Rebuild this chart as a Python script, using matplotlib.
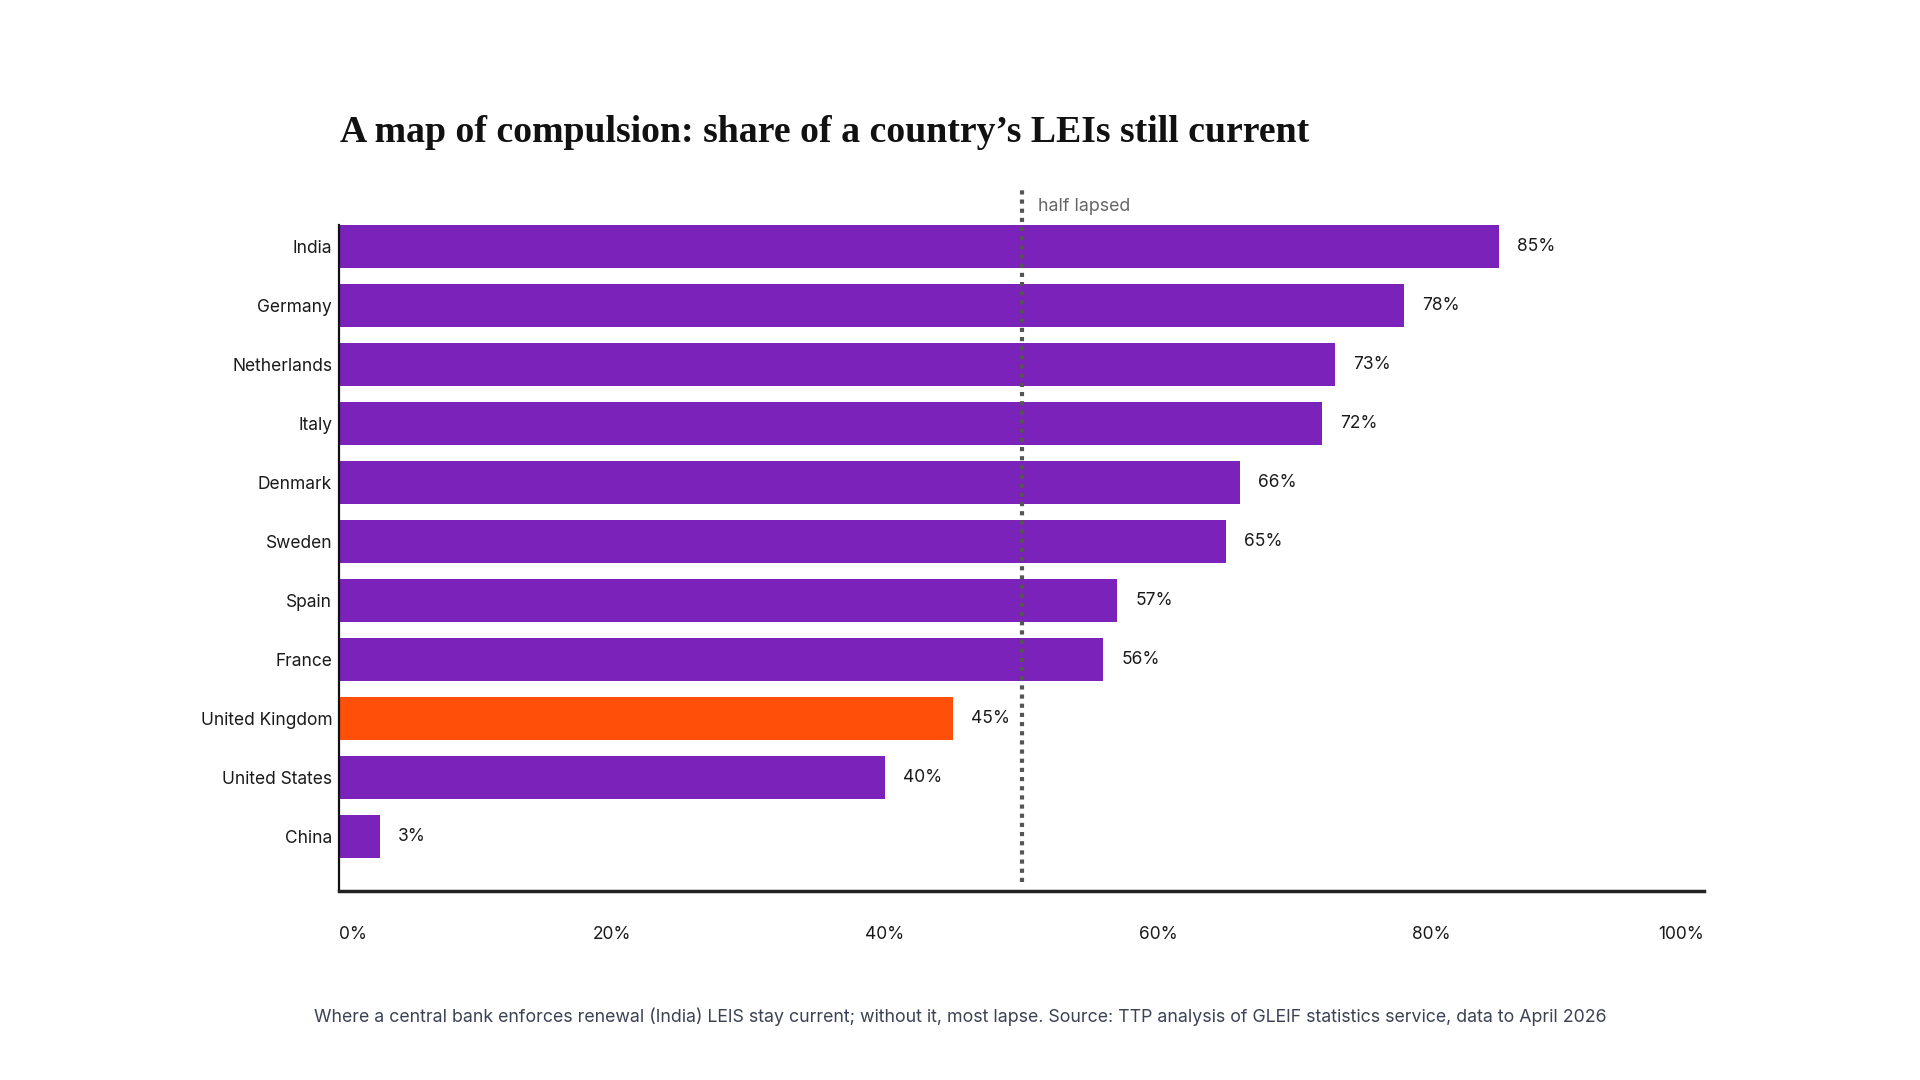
import matplotlib.pyplot as plt

countries = ['India', 'Germany', 'Netherlands', 'Italy', 'Denmark', 'Sweden',
             'Spain', 'France', 'United Kingdom', 'United States', 'China']
share_current = [85, 78, 73, 72, 66, 65, 57, 56, 45, 40, 3]
highlight = 'United Kingdom'
tick_values = [0, 20, 40, 60, 80, 100]
half_line = 50

PURPLE = '#7A22BA'
ORANGE = '#FF4F08'

plt.rcParams['font.family'] = ['Inter', 'DejaVu Sans']

fig = plt.figure(figsize=(19.2, 10.8), dpi=100)
ax = fig.add_axes([0.1766, 0.175, 0.7109, 0.6167])

ypos = list(range(len(countries)))
colors = [ORANGE if c == highlight else PURPLE for c in countries]
ax.barh(ypos, share_current, height=0.73, color=colors, zorder=2)

# подписи значений у конца столбцов
for y, v in zip(ypos, share_current):
    ax.annotate(f'{v}%', (v, y), xytext=(18, 0), textcoords='offset pixels',
                va='center', ha='left', fontsize=12.5, color='#1a1a1a')

# линия "half lapsed"
ax.axvline(half_line, ymin=0.0135, ymax=1.053, color='#555555', linestyle=(0, (1, 1.2)),
           linewidth=3, clip_on=False, zorder=3)
ax.annotate('half lapsed', (half_line, 1.053), xycoords=('data', 'axes fraction'),
            xytext=(16, -17), textcoords='offset pixels', va='center', ha='left',
            fontsize=12.8, color='#666666', annotation_clip=False)

ax.set_xlim(0, 99.6)
ax.set_ylim(len(countries) - 0.07, -0.37)
ax.set_yticks(ypos)
ax.set_yticklabels(countries, fontsize=12.5, color='#1a1a1a')
ax.set_xticks(tick_values)
ax.set_xticklabels([f'{t}%' for t in tick_values], fontsize=12.5, color='#1a1a1a')
xlabels = ax.get_xticklabels()
xlabels[0].set_ha('left')
xlabels[-1].set_ha('right')
ax.tick_params(axis='y', length=0, pad=5)
ax.tick_params(axis='x', length=0, pad=25)

for s in ['top', 'right']:
    ax.spines[s].set_visible(False)
ax.spines['left'].set_linewidth(1.6)
ax.spines['left'].set_color('#111111')
ax.spines['bottom'].set_linewidth(2.5)
ax.spines['bottom'].set_color('#222222')

fig.text(0.177, 1 - 133 / 1080, 'A map of compulsion: share of a country\u2019s LEIs still current',
         family=['Liberation Serif', 'DejaVu Serif'], fontweight='bold', fontsize=27.2,
         va='center', ha='left', color='#111111')

fig.text(0.5, 1 - 1017 / 1080,
         'Where a central bank enforces renewal (India) LEIS stay current; without it, most lapse. '
         'Source: TTP analysis of GLEIF statistics service, data to April 2026',
         ha='center', va='center', fontsize=12.8, color='#3b4254')

fig.savefig('out.png', dpi=100, facecolor='white')
